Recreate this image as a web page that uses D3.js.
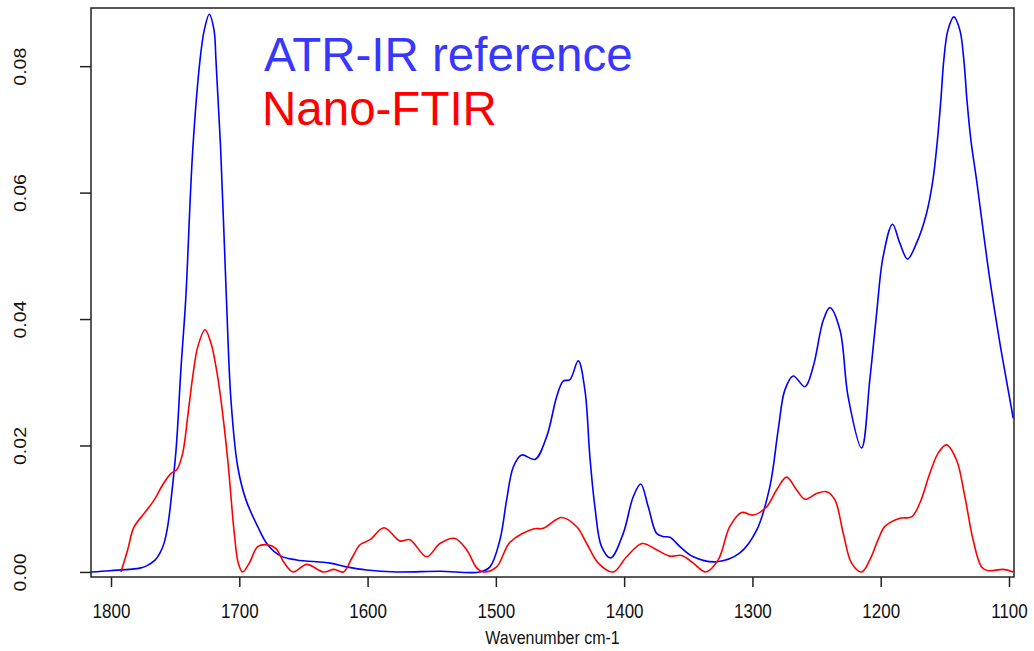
<!DOCTYPE html>
<html>
<head>
<meta charset="utf-8">
<script src="https://cdn.jsdelivr.net/npm/d3@7"></script>
<style>
  body { margin: 0; background: #fff; }
  svg { display: block; font-family: "Liberation Sans", Arial, sans-serif; }
</style>
</head>
<body>
<svg id="chart" width="1034" height="651"></svg>
<script>
// ATR-IR reference spectrum (wavenumber cm-1, absorbance)
var atrWn = [1815.6, 1800.8, 1777.4, 1771.9, 1765.5, 1761.8, 1758.6, 1755.6, 1753.2, 1749.3, 1745.4,
  1741.8, 1736.3, 1730.6, 1727.3, 1723.4, 1719.7, 1718.2, 1714.5, 1710.0, 1706.5,
  1701.2, 1694.8, 1685.7, 1677.9, 1667.5, 1655.3, 1629.3, 1616.3, 1600.7, 1577.3,
  1543.6, 1512.4, 1504.6, 1496.8, 1491.6, 1486.4, 1480.0, 1469.5, 1460.4, 1452.6,
  1447.5, 1442.3, 1435.8, 1430.6, 1426.7, 1422.8, 1417.6, 1410.5, 1400.7, 1392.9,
  1387.1, 1381.2, 1374.7, 1369.6, 1364.3, 1356.5, 1346.1, 1327.9, 1309.8, 1296.7,
  1286.4, 1279.9, 1274.7, 1268.2, 1259.1, 1252.6, 1244.8, 1239.6, 1231.8, 1225.4,
  1214.9, 1208.5, 1203.2, 1198.1, 1190.8, 1185.1, 1179.1, 1172.1, 1164.3, 1159.3,
  1155.8, 1153.1, 1150.8, 1147.6, 1143.0, 1138.3, 1135.2, 1132.8, 1129.7, 1125.3,
  1120.0, 1115.1, 1107.1, 1101.9, 1096.7];
var atrAbs = [0.0000, 0.0002, 0.0006, 0.0010, 0.0019, 0.0030, 0.0046, 0.0075, 0.0114, 0.0193, 0.0324,
  0.0430, 0.0667, 0.0810, 0.0857, 0.0882, 0.0857, 0.0810, 0.0667, 0.0430, 0.0272,
  0.0166, 0.0114, 0.0072, 0.0043, 0.0025, 0.0019, 0.0014, 0.0008, 0.0003, 0.0000,
  0.0001, 0.0000, 0.0008, 0.0051, 0.0114, 0.0166, 0.0185, 0.0178, 0.0214, 0.0277,
  0.0302, 0.0304, 0.0334, 0.0288, 0.0182, 0.0103, 0.0040, 0.0022, 0.0061, 0.0119,
  0.0139, 0.0103, 0.0061, 0.0056, 0.0055, 0.0040, 0.0024, 0.0016, 0.0030, 0.0066,
  0.0135, 0.0225, 0.0288, 0.0310, 0.0293, 0.0325, 0.0398, 0.0418, 0.0383, 0.0277,
  0.0196, 0.0304, 0.0409, 0.0499, 0.0550, 0.0520, 0.0495, 0.0520, 0.0567, 0.0620,
  0.0683, 0.0747, 0.0810, 0.0857, 0.0878, 0.0857, 0.0810, 0.0747, 0.0683, 0.0620,
  0.0538, 0.0465, 0.0362, 0.0302, 0.0243];

// Nano-FTIR spectrum
var nanoWn = [1792.2, 1787.0, 1782.3, 1774.0, 1766.3, 1759.7, 1753.2, 1748.6, 1744.1, 1740.2,
  1736.3, 1732.4, 1726.7, 1722.1, 1718.2, 1714.3, 1709.0, 1703.9, 1700.8, 1697.4,
  1692.2, 1685.7, 1677.9, 1671.4, 1664.9, 1657.9, 1647.5, 1634.5, 1626.2, 1618.9,
  1612.2, 1605.9, 1598.1, 1587.2, 1574.8, 1567.0, 1554.0, 1543.6, 1531.9, 1522.8,
  1514.8, 1509.8, 1499.4, 1489.0, 1470.9, 1463.1, 1448.7, 1436.8, 1429.2, 1420.2,
  1408.5, 1398.1, 1385.9, 1374.7, 1364.3, 1355.2, 1346.1, 1336.3, 1326.7, 1317.6,
  1308.4, 1299.4, 1289.0, 1281.1, 1273.4, 1265.6, 1259.1, 1250.0, 1242.2, 1235.7,
  1229.2, 1222.7, 1214.9, 1208.5, 1202.0, 1196.7, 1185.0, 1175.9, 1169.5, 1161.7,
  1155.2, 1148.7, 1140.9, 1134.4, 1128.0, 1121.4, 1116.2, 1104.5, 1096.7];
var nanoAbs = [0.0000, 0.0035, 0.0070, 0.0093, 0.0114, 0.0138, 0.0156, 0.0162, 0.0188, 0.0246,
  0.0309, 0.0356, 0.0383, 0.0362, 0.0325, 0.0272, 0.0177, 0.0061, 0.0014, 0.0000,
  0.0014, 0.0040, 0.0043, 0.0037, 0.0014, 0.0000, 0.0012, 0.0000, 0.0004, 0.0000,
  0.0022, 0.0043, 0.0051, 0.0070, 0.0049, 0.0051, 0.0024, 0.0045, 0.0053, 0.0035,
  0.0006, 0.0000, 0.0008, 0.0047, 0.0068, 0.0069, 0.0086, 0.0071, 0.0045, 0.0014,
  0.0000, 0.0024, 0.0045, 0.0035, 0.0025, 0.0026, 0.0014, 0.0000, 0.0019, 0.0072,
  0.0094, 0.0090, 0.0103, 0.0130, 0.0150, 0.0130, 0.0115, 0.0124, 0.0127, 0.0114,
  0.0061, 0.0014, 0.0000, 0.0019, 0.0051, 0.0072, 0.0085, 0.0087, 0.0109, 0.0156,
  0.0188, 0.0201, 0.0177, 0.0119, 0.0051, 0.0008, 0.0002, 0.0004, 0.0000];

var xTicks = [1800, 1700, 1600, 1500, 1400, 1300, 1200, 1100];
var yTicks = [0.00, 0.02, 0.04, 0.06, 0.08];
var legendLabels = ['ATR-IR reference', 'Nano-FTIR'];
var xTitle = 'Wavenumber cm-1';

var margin = { top: 8, right: 20, bottom: 74, left: 91 };
var width = 1034 - margin.left - margin.right;
var height = 651 - margin.top - margin.bottom;

var svg = d3.select('#chart');
var g = svg.append('g').attr('transform', 'translate(' + margin.left + ',' + margin.top + ')');

var x = d3.scaleLinear().domain([1815.6, 1096.1]).range([0, width]);
var y = d3.scaleLinear().domain([-0.0008, 0.0892]).range([height, 0]);

g.append('clipPath').attr('id', 'plot-clip')
  .append('rect').attr('width', width).attr('height', height);

function toPoints(wn, ab) {
  return wn.map(function(w, i) { return [w, ab[i]]; });
}

var line = d3.line()
  .x(function(d) { return x(d[0]); })
  .y(function(d) { return y(d[1]); })
  .curve(d3.curveCatmullRom.alpha(0.5));

var series = [
  { pts: toPoints(atrWn, atrAbs), color: '#0000ff' },
  { pts: toPoints(nanoWn, nanoAbs), color: '#ff0000' }
];

g.append('g').attr('clip-path', 'url(#plot-clip)')
  .selectAll('path')
  .data(series)
  .enter().append('path')
  .attr('d', function(d) { return line(d.pts); })
  .attr('fill', 'none')
  .attr('stroke', function(d) { return d.color; })
  .attr('stroke-width', 1.6);

// x axis
var xAxis = g.append('g')
  .attr('transform', 'translate(0,' + height + ')')
  .call(d3.axisBottom(x).tickValues(xTicks).tickSize(10).tickFormat(d3.format('d')));
xAxis.select('.domain').remove();
xAxis.selectAll('line').attr('stroke', '#222').attr('stroke-width', 1.5);
xAxis.selectAll('text')
  .attr('fill', '#111')
  .attr('font-size', 17)
  .attr('dy', null)
  .attr('y', 36)
  .attr('transform', 'scale(1,1.15)');

// y axis
var yAxis = g.append('g')
  .call(d3.axisLeft(y).tickValues(yTicks).tickSize(11).tickFormat(d3.format('.2f')));
yAxis.select('.domain').remove();
yAxis.selectAll('line').attr('stroke', '#222').attr('stroke-width', 1.5);
yAxis.selectAll('text')
  .attr('fill', '#111')
  .attr('font-size', 17)
  .attr('x', null).attr('dy', null)
  .attr('text-anchor', 'middle')
  .attr('transform', 'translate(-65,0) rotate(-90) scale(1.15,1)');

// frame
g.append('rect')
  .attr('width', width).attr('height', height)
  .attr('fill', 'none').attr('stroke', '#222').attr('stroke-width', 1.5);

// axis title
svg.append('text')
  .attr('x', margin.left + width / 2).attr('y', 644 / 1.1)
  .attr('text-anchor', 'middle')
  .attr('font-size', 16).attr('fill', '#111')
  .attr('transform', 'scale(1,1.1)')
  .text(xTitle);

// legend
var legendColors = ['#3737ff', '#ff0000'];
svg.selectAll('.legend')
  .data(legendLabels)
  .enter().append('text')
  .attr('class', 'legend')
  .attr('x', function(d, i) { return i === 0 ? 264 : 262; })
  .attr('y', function(d, i) { return 71 + i * 54; })
  .attr('font-size', 47.5)
  .attr('fill', function(d, i) { return legendColors[i]; })
  .text(function(d) { return d; });
</script>
</body>
</html>
